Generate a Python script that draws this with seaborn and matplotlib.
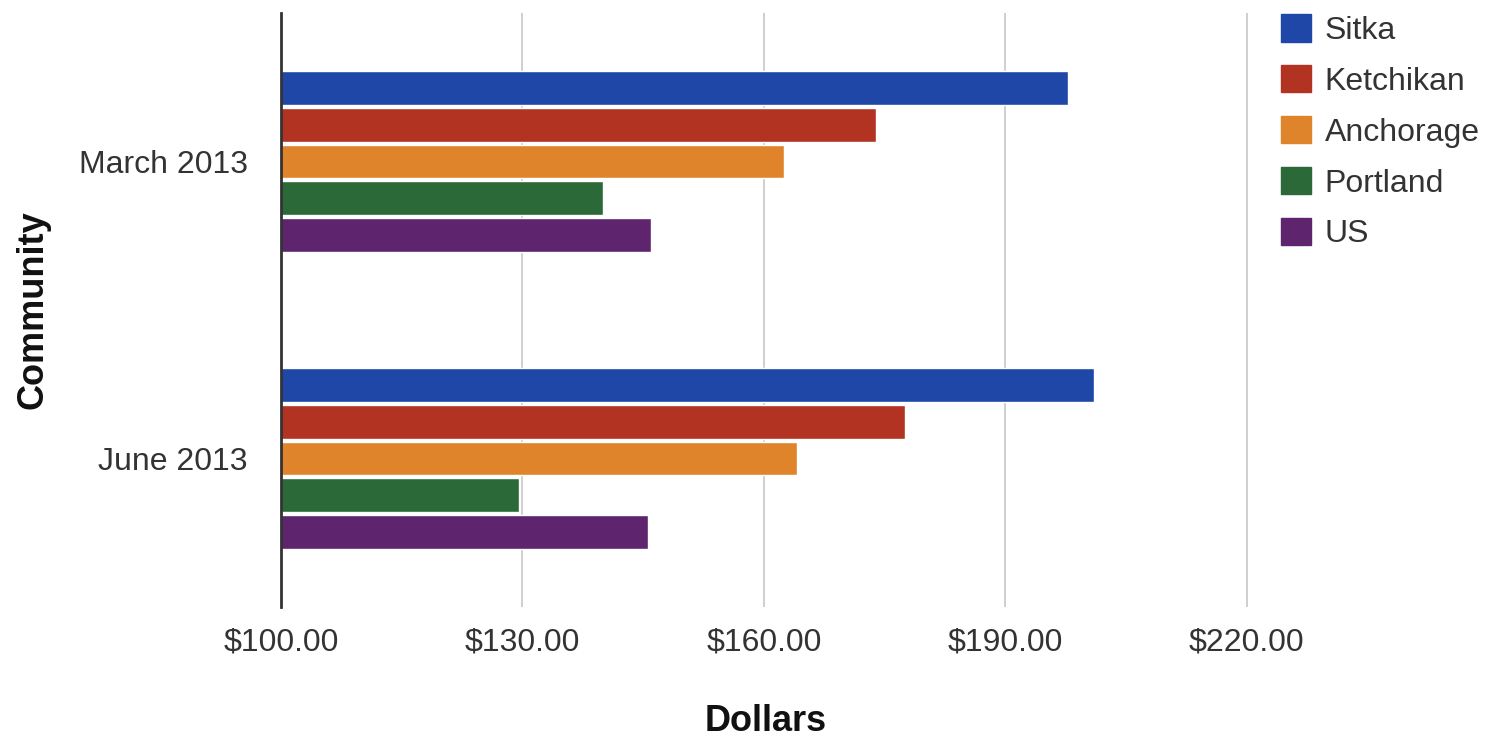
import pandas as pd
import seaborn as sns
import matplotlib.pyplot as plt
from matplotlib.ticker import FuncFormatter

# values
periods = ["March 2013", "June 2013"]
communities = ["Sitka", "Ketchikan", "Anchorage", "Portland", "US"]
sitka = [197.8, 201.0]
ketchikan = [173.9, 177.5]
anchorage = [162.5, 164.1]
portland = [140.0, 129.6]
us = [146.0, 145.6]

colors = ["#1f47a8", "#b33322", "#e0842c", "#2b6a38", "#5e256e"]


def to_long():
    rows = []
    for name, vals in zip(communities, [sitka, ketchikan, anchorage, portland, us]):
        for period, v in zip(periods, vals):
            rows.append({"Community": period, "Series": name, "Dollars": v})
    return pd.DataFrame(rows)


def main():
    df = to_long()
    sns.set_style("white")
    plt.rcParams['font.family'] = ['Liberation Sans', 'DejaVu Sans']

    fig = plt.figure(figsize=(14.86, 7.42), dpi=100)
    ax = fig.add_axes([281 / 1486, 1 - 607 / 742, (1250 - 281) / 1486, (607 - 13) / 742])

    sns.barplot(data=df, y="Community", x="Dollars", hue="Series", order=periods,
                hue_order=communities, palette=colors, orient="h", width=0.62, gap=0.08,
                saturation=1, legend=False, ax=ax)

    ax.set_xlim(100, 220.4)
    ax.set_ylim(1.5, -0.5)
    ax.set_xticks([100, 130, 160, 190, 220])
    ax.xaxis.set_major_formatter(FuncFormatter(lambda v, p: "${:.2f}".format(v)))
    ax.grid(axis="x", color="#cccccc", linewidth=1.3)
    ax.set_axisbelow(True)
    for s in ["top", "right", "bottom"]:
        ax.spines[s].set_visible(False)
    ax.spines["left"].set_color("#333333")
    ax.spines["left"].set_linewidth(2)
    ax.spines["left"].set_zorder(5)
    ax.tick_params(axis="both", length=0, labelsize=23, labelcolor="#333333")
    ax.tick_params(axis="x", pad=15)
    ax.tick_params(axis="y", pad=24)

    ax.set_xlabel("Dollars", fontsize=26, fontweight="bold", color="#111111", labelpad=33)
    ax.set_ylabel("Community", fontsize=26, fontweight="bold", color="#111111", labelpad=20)

    handles = [plt.Rectangle((0, 0), 1, 1, color=c) for c in colors]
    fig.legend(handles, communities, loc="upper left", bbox_to_anchor=(1281 / 1486, 1 - 14 / 742),
               frameon=False, fontsize=23, handlelength=0.95, handleheight=0.95,
               handletextpad=0.42, labelspacing=0.6, borderaxespad=0, borderpad=0,
               labelcolor="#333333")

    fig.savefig("out.png", dpi=100)
    plt.close(fig)


if __name__ == '__main__':
    main()
